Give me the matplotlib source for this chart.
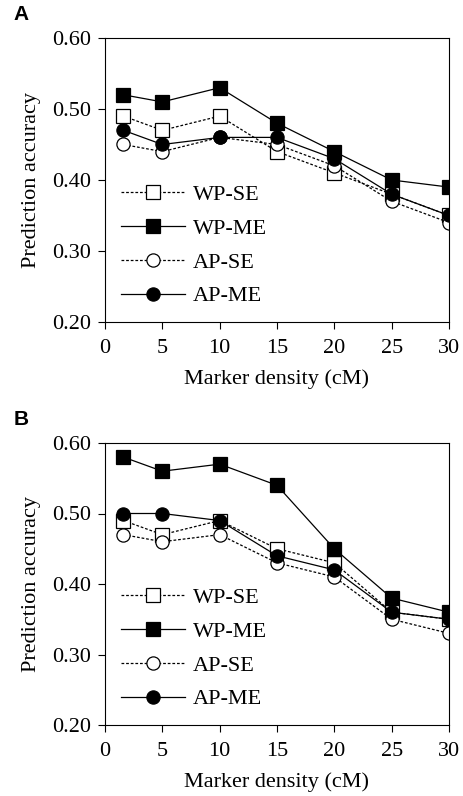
import matplotlib
matplotlib.use("Agg")
import matplotlib.pyplot as plt

# marker density (cM)
density = [1.6, 5, 10, 15, 20, 25, 30]

# panel A
a_wp_se = [0.49, 0.47, 0.49, 0.44, 0.41, 0.38, 0.35]
a_wp_me = [0.52, 0.51, 0.53, 0.48, 0.44, 0.40, 0.39]
a_ap_se = [0.45, 0.44, 0.46, 0.45, 0.42, 0.37, 0.34]
a_ap_me = [0.47, 0.45, 0.46, 0.46, 0.43, 0.38, 0.35]

# panel B
b_wp_se = [0.49, 0.47, 0.49, 0.45, 0.43, 0.36, 0.35]
b_wp_me = [0.58, 0.56, 0.57, 0.54, 0.45, 0.38, 0.36]
b_ap_se = [0.47, 0.46, 0.47, 0.43, 0.41, 0.35, 0.33]
b_ap_me = [0.50, 0.50, 0.49, 0.44, 0.42, 0.36, 0.35]

labels = ["WP-SE", "WP-ME", "AP-SE", "AP-ME"]
x_ticks = [0, 5, 10, 15, 20, 25, 30]
y_ticks = [0.20, 0.30, 0.40, 0.50, 0.60]

plt.rcParams["font.family"] = ["Liberation Serif", "DejaVu Serif"]

# style per series: marker, face colour, dashed?
styles = [("s", "white", True), ("s", "black", False),
          ("o", "white", True), ("o", "black", False)]


def draw_panel(ax, series, letter):
    for vals, lab, (mk, fc, dashed) in zip(series, labels, styles):
        ax.plot(density, vals, marker=mk, markerfacecolor=fc,
                markeredgecolor="black", markeredgewidth=0.9,
                markersize=10 if mk == "s" else 9.5,
                color="black", lw=0.9,
                dashes=(2.2, 1.5) if dashed else (None, None),
                label=lab)
    ax.set_xlim(0, 30)
    ax.set_ylim(0.20, 0.60)
    ax.set_xticks(x_ticks)
    ax.set_yticks(y_ticks)
    ax.set_yticklabels([f"{v:.2f}" for v in y_ticks])
    ax.tick_params(axis="both", labelsize=16, direction="out", length=5,
                   width=0.8, top=False, right=False)
    ax.tick_params(axis="y", pad=5)
    ax.tick_params(axis="x", pad=7)
    for s in ax.spines.values():
        s.set_linewidth(0.8)
    ax.set_xlabel("Marker density (cM)", fontsize=16, labelpad=8)
    ax.set_ylabel("Prediction accuracy", fontsize=16, labelpad=8)
    ax.legend(loc="lower left", bbox_to_anchor=(0.0, 0.0), frameon=False,
              fontsize=16, handlelength=2.9, handletextpad=0.35,
              labelspacing=0.6, borderaxespad=0.3)
    ax.text(-0.267, 1.05, letter, transform=ax.transAxes, fontsize=15,
            fontweight="bold", family="Liberation Sans", va="bottom")


fig = plt.figure(figsize=(4.63, 7.96), dpi=100)
ax_a = fig.add_axes([105 / 463, 1 - 322 / 796, 344 / 463, 284 / 796])
ax_b = fig.add_axes([105 / 463, 1 - 725 / 796, 344 / 463, 282 / 796])

draw_panel(ax_a, [a_wp_se, a_wp_me, a_ap_se, a_ap_me], "A")
draw_panel(ax_b, [b_wp_se, b_wp_me, b_ap_se, b_ap_me], "B")

fig.savefig("out.png", dpi=100)
